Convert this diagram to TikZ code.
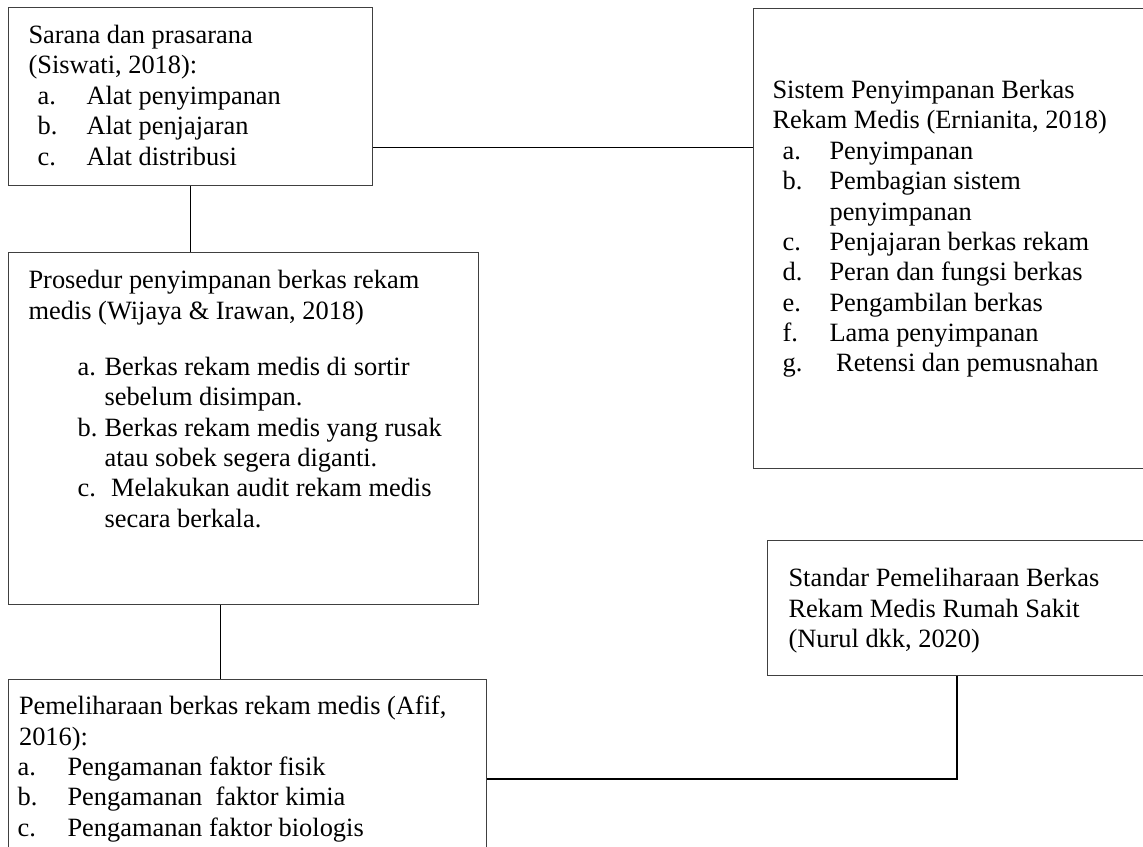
\documentclass[tikz,border=0pt]{standalone}
\usepackage{fontspec}
\setmainfont{Liberation Serif}
\usetikzlibrary{positioning}

\newlength{\px}
\setlength{\px}{0.4545pt}
\newlength{\lind}
\newlength{\lwid}
% list line, and continuation line
\newcommand{\li}[2]{\hspace*{\lind}\makebox[\lwid][l]{#1}#2}
\newcommand{\lc}[1]{\hspace*{\lind}\hspace*{\lwid}#1}
% width, height, top gap, left gap, text
\newcommand{\boxtext}[5]{%
	\parbox[t][#2\px][t]{#1\px}{\leftskip=#4\px\parindent=0pt%
		\vspace*{#3\px}\rule{0pt}{22\px}#5}}

\begin{document}
\begin{tikzpicture}[
			x=\px, y=-\px,
			font=\fontsize{12pt}{13.8pt}\selectfont,
			box/.style={
				rectangle,
				draw=black!75,
				line width=0.5pt,
				inner sep=0pt,
				anchor=north west
			},
			line/.style={
				draw=black,
				line width=0.8pt
			}
			]
			\useasboundingbox (0,0) rectangle (1143,847);
			
			% left column
			\node [box] (sarana) at (8,7)
			{\boxtext{364}{178}{14}{20}{%
				\setlength{\lind}{9\px}\setlength{\lwid}{49\px}%
				Sarana dan prasarana\\
				(Siswati, 2018):\\
				\li{a.}{Alat penyimpanan}\\
				\li{b.}{Alat penjajaran}\\
				\li{c.}{Alat distribusi}}};
			
			\node [box, below=66\px of sarana.south west, anchor=north west] (prosedur)
			{\boxtext{470}{352}{14}{20}{%
				\setlength{\lind}{49\px}\setlength{\lwid}{27\px}%
				Prosedur penyimpanan berkas rekam\\
				medis (Wijaya \& Irawan, 2018)\\[26\px]
				\li{a.}{Berkas rekam medis di sortir}\\
				\lc{sebelum disimpan.}\\
				\li{b.}{Berkas rekam medis yang rusak}\\
				\lc{atau sobek segera diganti.}\\
				\li{c.}{\ Melakukan audit rekam medis}\\
				\lc{secara berkala.}}};
			
			\node [box, below=74\px of prosedur.south west, anchor=north west] (pemeliharaan)
			{\boxtext{478}{198}{13}{9}{%
				\setlength{\lind}{0pt}\setlength{\lwid}{50\px}%
				\hspace*{1.5\px}Pemeliharaan berkas rekam medis (Afif,\\
				\hspace*{1.5\px}2016):\\
				\li{a.}{Pengamanan faktor fisik}\\
				\li{b.}{Pengamanan\ \ faktor kimia}\\
				\li{c.}{Pengamanan faktor biologis}}};
			
			% right column
			\node [box] (sistem) at (753,8)
			{\boxtext{393}{460}{68}{19}{%
				\setlength{\lind}{10\px}\setlength{\lwid}{47\px}%
				Sistem Penyimpanan Berkas\\
				Rekam Medis (Ernianita, 2018)\\
				\li{a.}{Penyimpanan}\\
				\li{b.}{Pembagian sistem}\\
				\lc{penyimpanan}\\
				\li{c.}{Penjajaran berkas rekam}\\
				\li{d.}{Peran dan fungsi berkas}\\
				\li{e.}{Pengambilan berkas}\\
				\li{f.}{Lama penyimpanan}\\
				\li{g.}{\ Retensi dan pemusnahan}}};
			
			\node [box, below=71\px of sistem.south west, xshift=14\px, anchor=north west] (standar)
			{\boxtext{379}{135}{24}{21}{%
				Standar Pemeliharaan Berkas\\
				Rekam Medis Rumah Sakit\\
				(Nurul dkk, 2020)}};
			
			% connecting lines
			\coordinate (s1) at ([yshift=-51\px]sarana.east);
			\coordinate (p1) at ([xshift=-23\px]prosedur.south);
			\draw [line] (s1) -- (s1 -| sistem.west);
			\draw [line] (sarana.south) -- (sarana.south |- prosedur.north);
			\draw [line] (p1) -- (p1 |- pemeliharaan.north);
			\draw [line] (pemeliharaan.east) -| (standar.south);
			
\end{tikzpicture}
\end{document}
